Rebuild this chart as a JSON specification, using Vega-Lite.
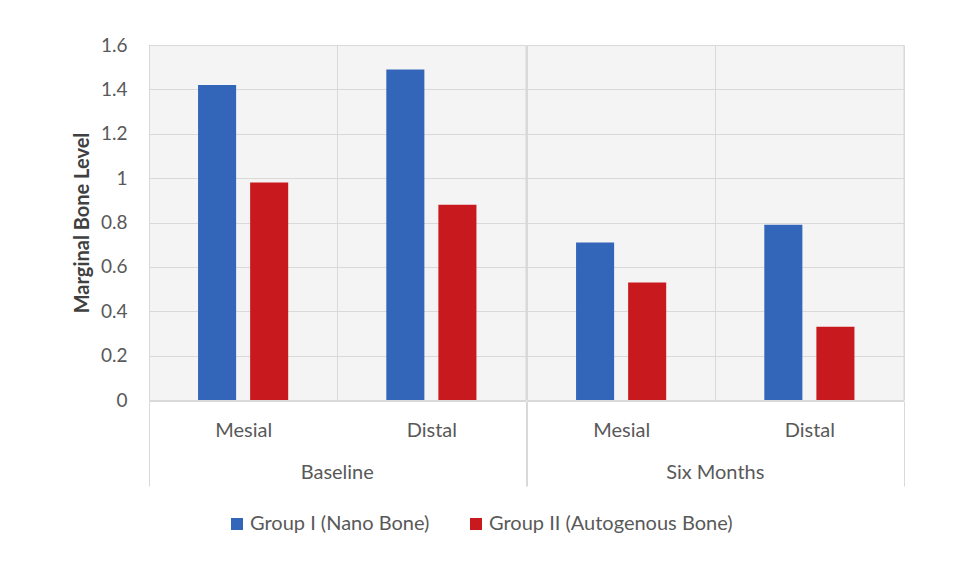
{
  "$schema": "https://vega.github.io/schema/vega-lite/v6.json",
  "background": "white",
  "padding": {"left": 72, "top": 36, "right": 20, "bottom": 10},
  "data": {
    "values": [
      {"time": "Baseline", "site": "Mesial", "group": "Group I (Nano Bone)", "value": 1.42},
      {"time": "Baseline", "site": "Mesial", "group": "Group II (Autogenous Bone)", "value": 0.98},
      {"time": "Baseline", "site": "Distal", "group": "Group I (Nano Bone)", "value": 1.49},
      {"time": "Baseline", "site": "Distal", "group": "Group II (Autogenous Bone)", "value": 0.88},
      {"time": "Six Months", "site": "Mesial", "group": "Group I (Nano Bone)", "value": 0.71},
      {"time": "Six Months", "site": "Mesial", "group": "Group II (Autogenous Bone)", "value": 0.53},
      {"time": "Six Months", "site": "Distal", "group": "Group I (Nano Bone)", "value": 0.79},
      {"time": "Six Months", "site": "Distal", "group": "Group II (Autogenous Bone)", "value": 0.33}
    ]
  },
  "spacing": 0,
  "facet": {
    "column": {
      "field": "time",
      "type": "nominal",
      "sort": ["Baseline", "Six Months"],
      "title": null,
      "header": {
        "labelOrient": "bottom",
        "labelFont": "Lato",
        "labelFontSize": 20,
        "labelColor": "#595959",
        "labelPadding": -24
      }
    }
  },
  "spec": {
    "width": 376.5,
    "height": 355,
    "mark": {"type": "bar"},
    "encoding": {
      "x": {
        "field": "site",
        "type": "nominal",
        "sort": ["Mesial", "Distal"],
        "scale": {"paddingInner": 0, "paddingOuter": 0},
        "axis": {
          "title": null,
          "labelAngle": 0,
          "labelFont": "Lato",
          "labelFontSize": 20,
          "labelColor": "#595959",
          "labelPadding": -66,
          "labelBaseline": "top",
          "domainColor": "#d9d9d9",
          "tickBand": "extent",
          "tickSize": 85,
          "tickColor": {"condition": {"test": "datum.value === 'Distal' || datum.extra", "value": "#d9d9d9"}, "value": "transparent"},
          "grid": true,
          "gridColor": "#d9d9d9"
        }
      },
      "xOffset": {
        "field": "group",
        "type": "nominal",
        "scale": {"paddingInner": 0.269, "paddingOuter": 0.942}
      },
      "y": {
        "field": "value",
        "type": "quantitative",
        "scale": {"domain": [0, 1.6]},
        "axis": {
          "title": "Marginal Bone Level",
          "titleFont": "Lato",
          "titleFontSize": 20,
          "titleFontWeight": "bold",
          "titleColor": "#404040",
          "titlePadding": 8,
          "values": [0, 0.2, 0.4, 0.6, 0.8, 1, 1.2, 1.4, 1.6],
          "format": "~g",
          "labelFont": "Lato",
          "labelFontSize": 19,
          "labelColor": "#595959",
          "labelPadding": 21,
          "ticks": false,
          "domain": false,
          "grid": true,
          "gridColor": "#d9d9d9"
        }
      },
      "color": {
        "field": "group",
        "type": "nominal",
        "scale": {"range": ["#3366b8", "#c81a1e"]},
        "legend": {
          "title": null,
          "orient": "none",
          "legendX": 78,
          "legendY": 469,
          "direction": "horizontal",
          "symbolType": "square",
          "symbolSize": 144,
          "symbolStrokeWidth": 0,
          "labelFont": "Lato",
          "labelFontSize": 20,
          "labelColor": "#595959",
          "labelLimit": 400,
          "labelOffset": 3,
          "columnPadding": 36
        }
      }
    }
  },
  "config": {
    "view": {"stroke": "#d9d9d9", "fill": "#f4f4f4"}
  }
}
